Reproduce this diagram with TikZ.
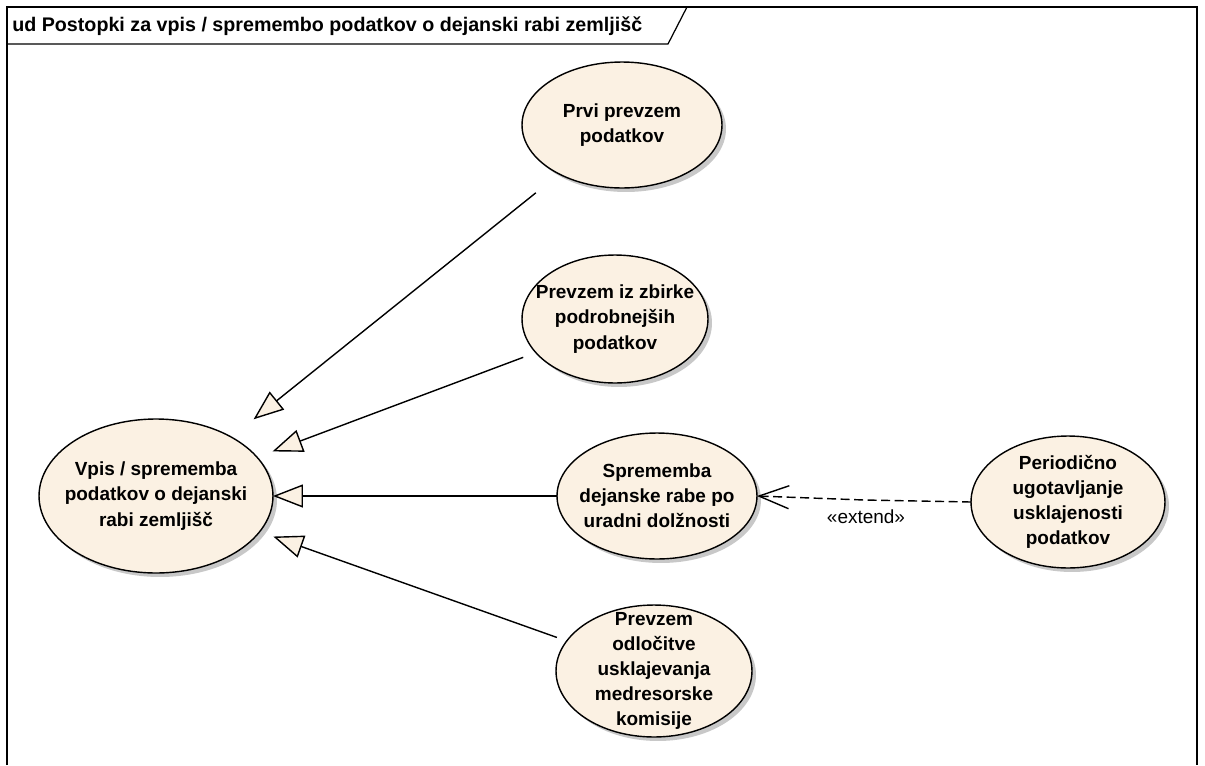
\documentclass[tikz,border=0pt]{standalone}
\usepackage{fontspec}
\setmainfont{Liberation Sans}
\usepackage{tikz}
\usetikzlibrary{arrows.meta,shapes.geometric,shadows}
\definecolor{ucfill}{RGB}{251,241,227}
\definecolor{ucshade}{RGB}{200,200,200}

\begin{document}
\begin{tikzpicture}[x=0.02cm,y=-0.02cm,
  uc/.style={ellipse,draw,line width=0.8pt,fill=ucfill,inner sep=0pt,outer sep=0pt,
    drop shadow={shadow xshift=0.08cm,shadow yshift=-0.08cm,fill=ucshade,opacity=1}},
  uctext/.style={font=\fontsize{10.8}{14.3}\selectfont\bfseries,align=center,inner sep=0pt},
  gen/.style={line width=0.8pt,-{Triangle[length=0.6cm,width=0.46cm,fill=ucfill]}},
  ext/.style={line width=0.8pt,dash pattern=on 0.18cm off 0.09cm,-{Straight Barb[length=0.6cm,width=0.46cm]}}]
\useasboundingbox (0,0) rectangle (1205,765);
\fill[white] (0,0) rectangle (1205,765);
% frame with its name tab
\draw[line width=0.7pt] (7,765) -- (7,7) -- (1197,7) -- (1197,765);
\draw[line width=0.7pt] (7,44) -- (668,44) -- (687,7);
\node[anchor=west,inner sep=0pt,font=\fontsize{11.2}{13}\selectfont\bfseries] (title) at (12,26) {ud Postopki za vpis / spremembo podatkov o dejanski rabi zemljišč};

% use cases
\node[uc,minimum width=4.68cm,minimum height=3.08cm] (vpis) at (156,496) {};
\node[uctext] (vpis-t) at (vpis) {Vpis / sprememba\\podatkov o dejanski\\rabi zemljišč};
\node[uc,minimum width=4cm,minimum height=2.52cm] (prvi) at (622,125) {};
\node[uctext] (prvi-t) at (prvi) {Prvi prevzem\\podatkov};
\node[uc,minimum width=3.72cm,minimum height=2.56cm] (zbirka) at (615,319) {};
\node[uctext] (zbirka-t) at (zbirka) {Prevzem iz zbirke\\podrobnejših\\podatkov};
\node[uc,minimum width=4cm,minimum height=2.52cm] (spr) at (657,496) {};
\node[uctext] (spr-t) at (spr) {Sprememba\\dejanske rabe po\\uradni dolžnosti};
\node[uc,minimum width=3.88cm,minimum height=2.64cm] (period) at (1068,502) {};
\node[uctext] (period-t) at (period) {Periodično\\ugotavljanje\\usklajenosti\\podatkov};
\node[uc,minimum width=3.92cm,minimum height=2.64cm] (odl) at (654,671) {};
\node[uctext] (odl-t) at (odl) {Prevzem\\odločitve\\usklajevanja\\medresorske\\komisije};

% generalizations
\draw[gen,shorten <=0.6cm,shorten >=0.57cm] (prvi.218) -- (vpis.38);
\draw[gen,shorten <=0.27cm,shorten >=0.33cm] (zbirka.203) -- (vpis.21);
\draw[gen] (spr.west) -- (vpis.east);
\draw[gen,shorten <=0.21cm,shorten >=0.29cm] (odl.161) -- (vpis.341);

% extend
\coordinate (bend) at (864,500);
\draw[ext] (period.west) -- (bend) -- (spr.east);
\node[font=\fontsize{10.8}{13}\selectfont] (ext-lbl) at (866,517) {«extend»};
\end{tikzpicture}
\end{document}
